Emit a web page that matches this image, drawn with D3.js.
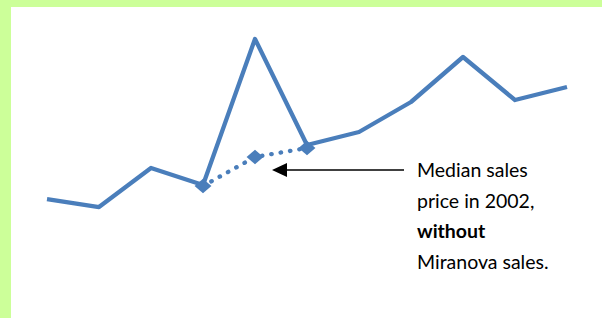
<!DOCTYPE html>
<html><head><meta charset="utf-8">
<script src="https://cdn.jsdelivr.net/npm/d3@7"></script>
<style>html,body{margin:0;padding:0;background:#fff;}</style>
</head><body>
<svg id="c" width="602" height="318"></svg>
<script>
const years = [1998,1999,2000,2001,2002,2003,2004,2005,2006,2007,2008];
const medianPrice = [61,53,92,75,221,115,128,158,203,160,173];
const adjYears = [2001,2002,2003];
const adjPrice = [74,103,112];
const noteLines = ["Median sales","price in 2002,","without","Miranova sales."];

const svg = d3.select("#c");
svg.append("rect").attr("x",0).attr("y",0).attr("width",602).attr("height",318).attr("fill","#ccff99");
svg.append("rect").attr("x",11).attr("y",7).attr("width",591).attr("height",311).attr("fill","#fff");

const x = d3.scalePoint().domain(years).range([47,567]);
const y = d3.scaleLinear().domain([0,250]).range([260,10]);
const blue = "#4a7ebb";

svg.append("path").datum(years.map((d,i)=>[d,medianPrice[i]]))
  .attr("fill","none").attr("stroke",blue).attr("stroke-width",4.3)
  .attr("stroke-linejoin","round")
  .attr("d", d3.line().x(d=>x(d[0])).y(d=>y(d[1])));

svg.append("path").datum(adjYears.map((d,i)=>[d,adjPrice[i]]))
  .attr("fill","none").attr("stroke",blue).attr("stroke-width",4.3)
  .attr("stroke-linecap","round").attr("stroke-dasharray","0.5,9")
  .attr("d", d3.line().x(d=>x(d[0])).y(d=>y(d[1])));

svg.selectAll(".m").data(adjYears.map((d,i)=>[d,adjPrice[i]])).join("path")
  .attr("fill",blue)
  .attr("transform",d=>`translate(${x(d[0])},${y(d[1])}) scale(1.1,0.95)`)
  .attr("d", d3.symbol(d3.symbolDiamond2, 150)());

// arrow
const ax = x(2002)+17, ay = 170;
svg.append("line").attr("x1",404).attr("y1",ay).attr("x2",ax+12).attr("y2",ay)
  .attr("stroke","#000").attr("stroke-width",1.5);
svg.append("path").attr("d",`M${ax},${ay}L${ax+15},${ay-7}L${ax+15},${ay+7}Z`).attr("fill","#000");

const t = svg.append("text").attr("font-family","Lato,sans-serif").attr("font-size",19.5).attr("fill","#000");
noteLines.forEach((s,i)=>{
  t.append("tspan").attr("x",417).attr("y",177+i*30.5).attr("font-weight", i===2?"bold":"normal").text(s);
});
</script>
</body></html>
